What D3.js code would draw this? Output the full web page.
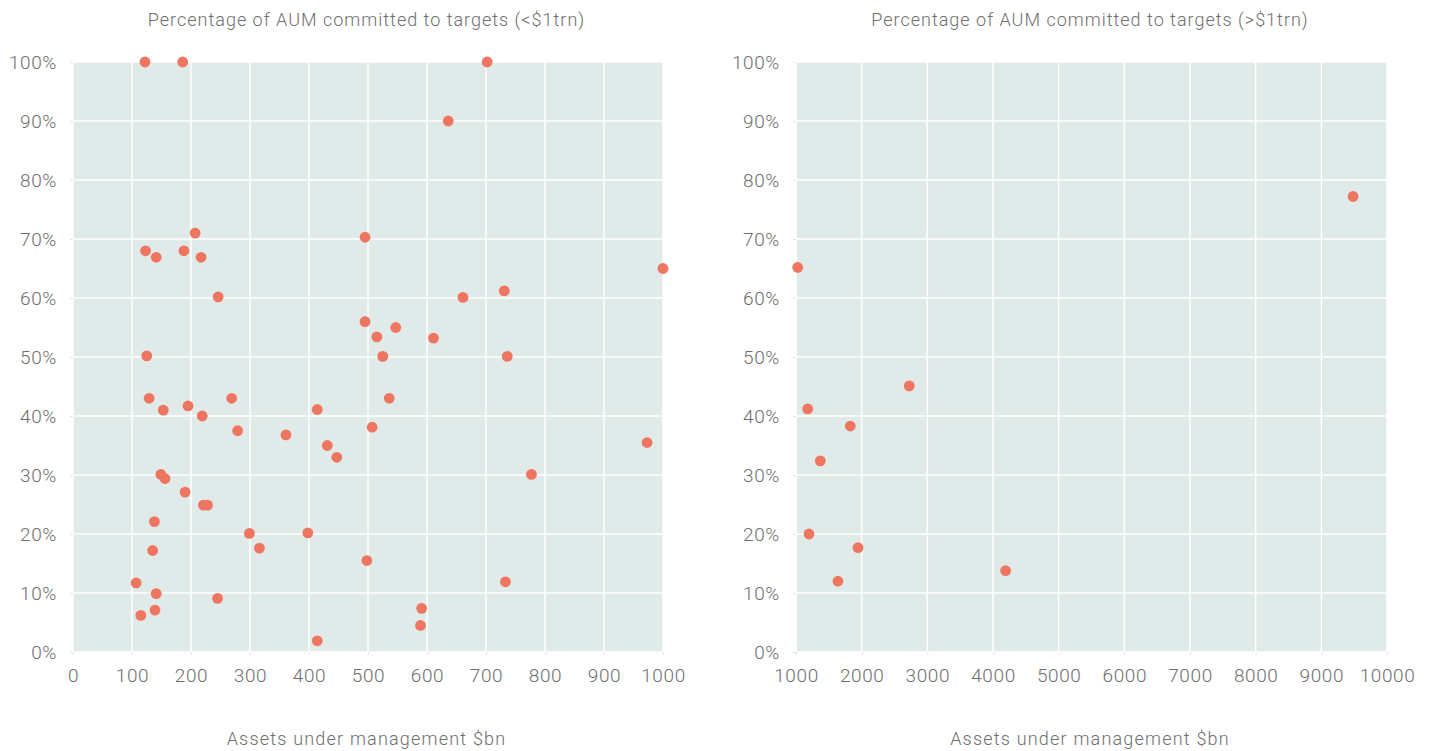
<!DOCTYPE html>
<html>
<head>
<meta charset="utf-8">
<script src="https://cdn.jsdelivr.net/npm/d3@7"></script>
<style>
  body { margin: 0; background: #fff; }
  svg text { font-family: "Helvetica Neue", Roboto, "Liberation Sans", sans-serif; font-weight: 300; fill: #6e6e6e; }
</style>
</head>
<body>
<svg id="chart" width="1432" height="751"></svg>
<script>
// Managers under $1trn: AUM ($bn) and % committed
const smallAum = [122, 186, 702, 636, 207, 495, 123, 188, 141, 217, 1000, 731, 246, 661, 495, 547, 515, 611,
  125, 525, 736, 129, 269, 536, 195, 153, 414, 219, 507, 279, 361, 973, 431, 447, 149, 156, 777, 190,
  221, 228, 138, 299, 398, 316, 135, 498, 733, 107, 141, 245, 591, 139, 115, 589, 414];
const smallPct = [100, 100, 100, 90, 71, 70.3, 68, 68, 66.9, 66.9, 65, 61.2, 60.2, 60.1, 56, 55, 53.4, 53.2,
  50.2, 50.1, 50.1, 43, 43, 43, 41.7, 41, 41.1, 40, 38.1, 37.5, 36.8, 35.5, 35, 33, 30.1, 29.4, 30.1, 27.1,
  24.9, 24.9, 22.1, 20.1, 20.2, 17.6, 17.2, 15.5, 11.9, 11.7, 9.9, 9.1, 7.4, 7.1, 6.2, 4.5, 1.9];

// Managers over $1trn
const largeAum = [1026, 9483, 2725, 1178, 1826, 1370, 1198, 1944, 1639, 4192];
const largePct = [65.2, 77.2, 45.1, 41.2, 38.3, 32.4, 20, 17.7, 12, 13.8];

const pctTicks = d3.range(0, 101, 10);
const smallTicks = d3.range(0, 1001, 100);
const largeTicks = d3.range(1000, 10001, 1000);

const titles = ["Percentage of AUM committed to targets (<$1trn)", "Percentage of AUM committed to targets (>$1trn)"];
const xTitle = "Assets under management $bn";

const svg = d3.select("#chart");
const plotTop = 62, plotBottom = 652;

const panels = [
  { left: 73, right: 663, domain: [0, 1000], ticks: smallTicks, xs: smallAum, ys: smallPct, title: titles[0] },
  { left: 796, right: 1387, domain: [1000, 10000], ticks: largeTicks, xs: largeAum, ys: largePct, title: titles[1] }
];

const y = d3.scaleLinear().domain([0, 100]).range([plotBottom, plotTop]);

panels.forEach(p => {
  const x = d3.scaleLinear().domain(p.domain).range([p.left, p.right]);
  const g = svg.append("g");

  g.append("rect")
    .attr("x", p.left).attr("y", plotTop)
    .attr("width", p.right - p.left).attr("height", plotBottom - plotTop)
    .attr("fill", "#e0eae8");

  // grid
  g.append("g").selectAll("line").data(p.ticks).join("line")
    .attr("x1", d => x(d)).attr("x2", d => x(d))
    .attr("y1", plotTop).attr("y2", plotBottom)
    .attr("stroke", "#fff").attr("stroke-width", 1.5);
  g.append("g").selectAll("line").data(pctTicks).join("line")
    .attr("x1", p.left).attr("x2", p.right)
    .attr("y1", d => y(d)).attr("y2", d => y(d))
    .attr("stroke", "#fff").attr("stroke-width", 1.5);

  // axes
  const yAxis = g.append("g")
    .attr("transform", `translate(${p.left},0)`)
    .call(d3.axisLeft(y).tickValues(pctTicks).tickSize(3).tickPadding(13).tickFormat(d => d + "%"));
  const xAxis = g.append("g")
    .attr("transform", `translate(0,${plotBottom})`)
    .call(d3.axisBottom(x).tickValues(p.ticks).tickSize(3).tickPadding(14).tickFormat(d3.format("d")));
  [yAxis, xAxis].forEach(a => {
    a.select(".domain").remove();
    a.selectAll(".tick line").attr("stroke", "#e6e6e6");
    a.selectAll(".tick text").attr("font-size", 19).attr("fill", "#727272")
      .attr("letter-spacing", 0.6)
      .style("font-family", null);
  });
  yAxis.selectAll(".tick text").attr("dy", "0.36em");
  xAxis.selectAll(".tick text").attr("dy", "0.7em");

  // points
  g.append("g").selectAll("circle").data(p.xs.map((v, i) => [v, p.ys[i]])).join("circle")
    .attr("cx", d => x(d[0])).attr("cy", d => y(d[1]))
    .attr("r", 5.4).attr("fill", "#ee7660");

  const mid = (p.left + p.right) / 2 - 1.5;
  g.append("text").attr("x", mid).attr("y", 26)
    .attr("text-anchor", "middle").attr("font-size", 18).attr("letter-spacing", 1)
    .text(p.title);
  g.append("text").attr("x", mid).attr("y", 745)
    .attr("text-anchor", "middle").attr("font-size", 18).attr("letter-spacing", 1.2)
    .text(xTitle);
});
</script>
</body>
</html>
